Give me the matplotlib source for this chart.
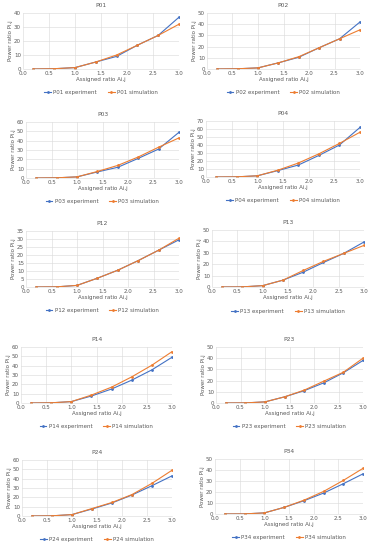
import matplotlib
matplotlib.use('Agg')
import matplotlib.pyplot as plt
import numpy as np

# assigned ratio values (x axis)
x = [0.2, 0.6, 1.0, 1.4, 1.8, 2.2, 2.6, 3.0]

names = ['P01', 'P02', 'P03', 'P04', 'P12', 'P13', 'P14', 'P23', 'P24', 'P34']

exp_P01 = [0, 0.2, 1.0, 5.0, 9.0, 17.0, 24.0, 37.0]
sim_P01 = [0, 0.2, 1.0, 5.0, 10.0, 17.0, 24.0, 32.0]
exp_P02 = [0, 0.2, 1.0, 5.5, 10.5, 19.0, 27.0, 42.0]
sim_P02 = [0, 0.2, 1.0, 5.5, 11.0, 19.0, 27.0, 35.0]
exp_P03 = [0, 0.2, 1.2, 6.5, 11.5, 21.0, 31.0, 49.0]
sim_P03 = [0, 0.2, 1.2, 7.0, 13.5, 22.5, 33.0, 43.0]
exp_P04 = [0, 0.2, 1.5, 8.0, 15.0, 27.0, 40.0, 62.0]
sim_P04 = [0, 0.2, 1.5, 8.5, 17.5, 29.0, 42.0, 56.0]
exp_P12 = [0, 0.1, 1.0, 5.5, 10.5, 16.5, 23.0, 29.5]
sim_P12 = [0, 0.1, 1.0, 5.5, 10.5, 16.5, 23.0, 30.5]
exp_P13 = [0, 0.1, 1.2, 6.0, 13.0, 21.5, 29.5, 39.5]
sim_P13 = [0, 0.1, 1.2, 6.0, 14.5, 22.5, 29.5, 36.5]
exp_P14 = [0, 0.2, 1.5, 7.5, 15.0, 24.5, 35.5, 49.0]
sim_P14 = [0, 0.2, 1.5, 8.5, 17.0, 28.0, 40.5, 55.0]
exp_P23 = [0, 0.1, 1.0, 5.5, 11.0, 18.0, 27.0, 38.0]
sim_P23 = [0, 0.1, 1.0, 5.5, 11.5, 19.5, 27.5, 40.0]
exp_P24 = [0, 0.2, 1.5, 7.5, 14.0, 22.5, 32.5, 43.0]
sim_P24 = [0, 0.2, 1.5, 8.0, 14.5, 23.0, 35.0, 49.0]
exp_P34 = [0, 0.1, 1.0, 6.0, 12.0, 19.0, 27.5, 36.5]
sim_P34 = [0, 0.1, 1.0, 6.0, 12.5, 20.5, 30.5, 41.5]

exp_all = [exp_P01, exp_P02, exp_P03, exp_P04, exp_P12, exp_P13, exp_P14, exp_P23, exp_P24, exp_P34]
sim_all = [sim_P01, sim_P02, sim_P03, sim_P04, sim_P12, sim_P13, sim_P14, sim_P23, sim_P24, sim_P34]

# y axis limits and steps per panel
y_max = [40, 50, 60, 70, 35, 50, 60, 50, 60, 50]
y_step = [10, 10, 10, 10, 5, 10, 10, 10, 10, 10]

# plot area boxes in pixels: left, top, right, bottom
W, H = 370, 550
boxes = [
    (23, 13, 179, 69), (207, 13, 360, 69),
    (26, 122, 179, 178), (206, 121, 360, 177),
    (26, 231, 179, 287), (212, 230, 364, 287),
    (21, 347, 172, 403), (216, 347, 363, 403),
    (22, 460, 172, 516), (215, 459, 363, 514),
]

blue = '#4472C4'
orange = '#ED7D31'
txt = '#595959'
fs = 4.0

fig = plt.figure(figsize=(W / 100, H / 100), dpi=100)

for i, name in enumerate(names):
    l, t, r, b = boxes[i]
    ax = fig.add_axes([l / W, 1 - b / H, (r - l) / W, (b - t) / H])
    ax.plot(x, exp_all[i], color=blue, lw=0.8, marker='o', ms=1.0,
            label=name + ' experiment')
    ax.plot(x, sim_all[i], color=orange, lw=0.8, marker='o', ms=1.0,
            label=name + ' simulation')
    ax.set_xlim(0, 3)
    ax.set_ylim(0, y_max[i])
    ax.set_xticks(np.arange(0, 3.01, 0.5))
    ax.set_xticklabels(['%.1f' % v for v in np.arange(0, 3.01, 0.5)])
    ax.set_yticks(np.arange(0, y_max[i] + 0.1, y_step[i]))
    ax.grid(True, color='#D9D9D9', lw=0.4)
    ax.set_axisbelow(True)
    for s in ax.spines.values():
        s.set_visible(False)
    ax.spines['bottom'].set_visible(True)
    ax.spines['bottom'].set_color('#D9D9D9')
    ax.spines['bottom'].set_linewidth(0.4)
    ax.tick_params(length=0, labelsize=fs, colors=txt, pad=1.5)
    ax.set_title(name, fontsize=fs + 0.3, color=txt, pad=4)
    ax.set_xlabel('Assigned ratio Ai,j', fontsize=fs, color=txt, labelpad=1)
    ax.set_ylabel('Power ratio Pi,j', fontsize=fs, color=txt, labelpad=1)
    ax.legend(loc='upper center', bbox_to_anchor=(0.5, -0.33), ncol=2,
              frameon=False, fontsize=fs, labelcolor=txt, handlelength=1.2,
              handletextpad=0.4, columnspacing=2.0, borderpad=0)

fig.savefig('out.png', dpi=100, facecolor='white')
